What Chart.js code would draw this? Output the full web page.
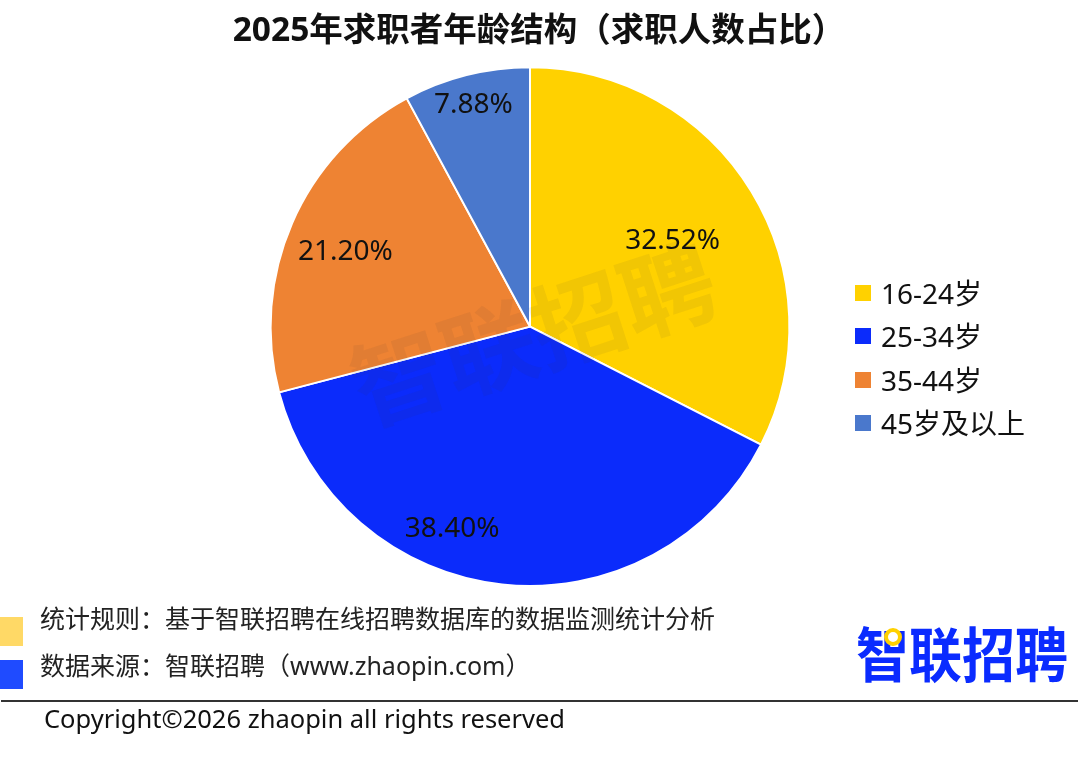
<!DOCTYPE html>
<html>

<head>
    <meta charset="utf-8">
    <title>2025年求职者年龄结构</title>
    <style>
        html, body { margin: 0; padding: 0; background: #fff; }
        body { width: 1080px; height: 762px; overflow: hidden; position: relative;
               font-family: "Noto Sans", "Noto Sans CJK SC", sans-serif; color: #111; }
        canvas { position: absolute; left: 0; top: 0; }
        .txt { position: absolute; white-space: nowrap; line-height: 1; }
        .box { position: absolute; }
        .legend-row { position: absolute; left: 855px; height: 30px; }
        .legend-row i { position: absolute; left: 0; top: 8px; width: 16px; height: 16px; }
        .legend-row span { position: absolute; left: 26px; top: 1px; font-size: 28px; line-height: 30px; white-space: nowrap; }
    </style>
</head>

<body>
    <canvas id="myChart" width="1080" height="762"></canvas>
    <div id="legend"></div>

    <div class="box" style="left:0;top:617px;width:23px;height:29px;background:#FFD966"></div>
    <div class="box" style="left:0;top:660px;width:23px;height:29px;background:#1F4BFF"></div>
    <div class="txt" style="left:40px;top:606px;font-size:25px;color:#222">统计规则：基于智联招聘在线招聘数据库的数据监测统计分析</div>
    <div class="txt" style="left:40px;top:653px;font-size:25px;color:#222">数据来源：智联招聘（www.zhaopin.com）</div>
    <div class="box" style="left:1px;top:700px;width:1077px;height:2px;background:#333"></div>
    <div class="txt" style="left:44px;top:706px;font-size:25.5px">Copyright©2026 zhaopin all rights reserved</div>

    <div class="txt" style="left:856px;top:624px;font-size:53px;font-weight:700;color:#0A2BFF;transform:scaleY(1.12);transform-origin:left top">智联招聘</div>
    <div class="box" style="left:884px;top:628px;width:10px;height:10px;border:4px solid #FFD100;border-radius:50%;background:#fff"></div>

    <script src="https://cdnjs.cloudflare.com/ajax/libs/Chart.js/4.4.1/chart.umd.min.js"></script>
    <script type="text/javascript">
        const titleText = "2025年求职者年龄结构（求职人数占比）";
        const categories = ["16-24岁", "25-34岁", "35-44岁", "45岁及以上"];
        const shares = [32.52, 38.40, 21.20, 7.88];
        const colors = ["#FFD100", "#0B2BFB", "#EE8333", "#4A78CC"];

        // where each % label sits: fraction of radius, and turn away from slice middle (deg)
        const labelRadius = [0.645, 0.83, 0.77, 0.89];
        const labelTurn = [0, 15, -1, 0];

        const fontFamily = '"Noto Sans", "Noto Sans CJK SC", sans-serif';

        const pctLabels = {
            id: 'pctLabels',
            afterLayout(chart) {
                // the closing bracket has blank space on its right, push title over
                chart.titleBlock.left += 9;
                chart.titleBlock.right += 9;
            },
            afterDatasetsDraw(chart) {
                const c = chart.ctx;
                const arcs = chart.getDatasetMeta(0).data;

                // faint watermark over the pie
                c.save();
                c.translate(arcs[0].x + 6, arcs[0].y + 16);
                c.rotate(-18 * Math.PI / 180);
                c.font = '700 94px ' + fontFamily;
                c.fillStyle = 'rgba(60,60,60,0.07)';
                c.textAlign = 'center';
                c.textBaseline = 'middle';
                c.fillText('智联招聘', 0, 0);
                c.restore();

                c.save();
                c.font = '28px ' + fontFamily;
                c.fillStyle = '#111';
                c.textAlign = 'center';
                c.textBaseline = 'middle';
                arcs.forEach((arc, i) => {
                    const a = (arc.startAngle + arc.endAngle) / 2 + labelTurn[i] * Math.PI / 180;
                    const r = arc.outerRadius * labelRadius[i];
                    c.fillText(shares[i].toFixed(2) + '%', arc.x + Math.cos(a) * r, arc.y + Math.sin(a) * r + 2);
                });
                c.restore();
            }
        };

        var ctx = document.getElementById('myChart').getContext('2d');
        var chart = new Chart(ctx, {
            type: 'pie',
            data: {
                labels: categories,
                datasets: [{
                    data: shares,
                    backgroundColor: colors,
                    borderColor: '#fff',
                    borderWidth: 2
                }]
            },
            options: {
                responsive: false,
                animation: false,
                // side padding is uneven so the pie centre lands at x=530
                layout: { padding: { left: 0, right: 20, top: 11, bottom: 175 } },
                plugins: {
                    legend: { display: false },
                    tooltip: { enabled: false },
                    title: {
                        display: true,
                        text: titleText,
                        color: '#111',
                        font: { family: fontFamily, size: 33.5, weight: '700' },
                        padding: { top: 0, bottom: 15 }
                    }
                }
            },
            plugins: [pctLabels]
        });

        // legend beside the pie
        const legend = document.getElementById('legend');
        categories.forEach((name, i) => {
            const row = document.createElement('div');
            row.className = 'legend-row';
            row.style.top = (277 + i * 43.3) + 'px';
            row.innerHTML = '<i style="background:' + colors[i] + '"></i><span>' + name + '</span>';
            legend.appendChild(row);
        });
    </script>
</body>

</html>
